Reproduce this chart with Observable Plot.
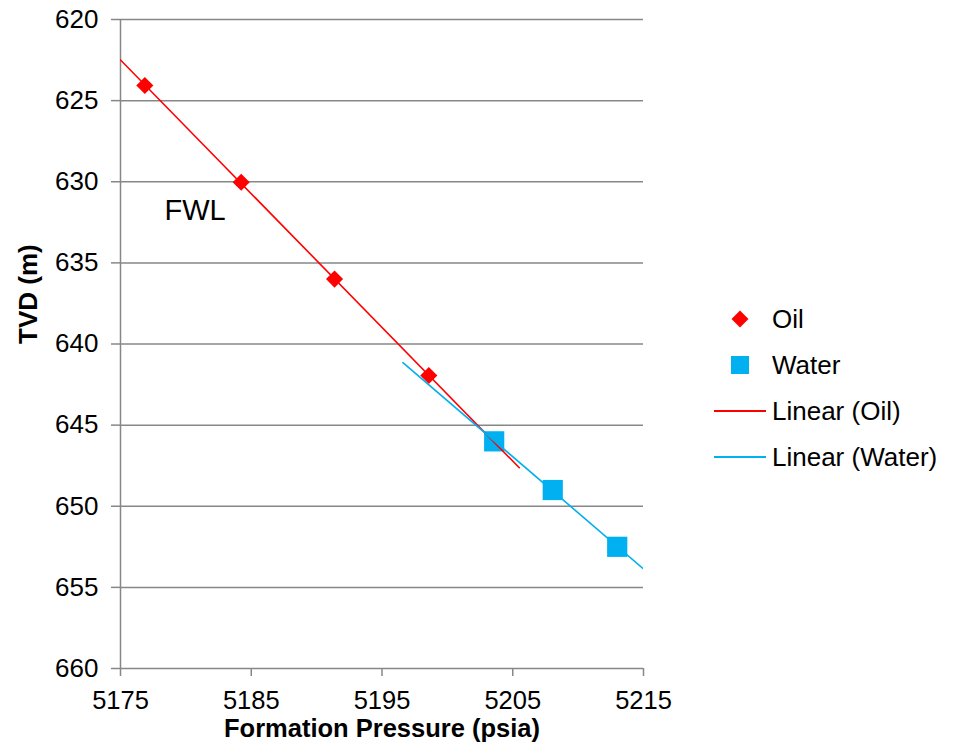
<!DOCTYPE html>
<html>
<head>
<meta charset="utf-8">
<script src="https://cdn.jsdelivr.net/npm/d3@7"></script>
<script src="https://cdn.jsdelivr.net/npm/@observablehq/plot@0.6"></script>
<style>
  body { margin: 0; background: #fff; font-family: "Liberation Sans", Arial, sans-serif; }
  #chart { position: relative; width: 956px; height: 754px; }
  #legend { position: absolute; left: 0; top: 0; }
</style>
</head>
<body>
<div id="chart"></div>
<script>
// Pressure survey: formation pressure (psia) against true vertical depth (m)
const oilPressure = [5176.86, 5184.23, 5191.37, 5198.58];
const oilDepth = [624.07, 630.03, 636.0, 641.94];
const waterPressure = [5203.58, 5208.06, 5212.99];
const waterDepth = [646.0, 649.0, 652.5];

// Pressure span over which each linear trend is drawn (forecast included)
const oilTrendPressure = [5175, 5205.5];
const waterTrendPressure = [5196.6, 5215];

const xTicks = [5175, 5185, 5195, 5205, 5215];
const yTicks = [620, 625, 630, 635, 640, 645, 650, 655, 660];

const annotationText = ["FWL"];
const annotationPressure = [5180.7];
const annotationDepth = [631.8];

const legendLabels = ["Oil", "Water", "Linear (Oil)", "Linear (Water)"];

const OIL = "#ff0000";
const WATER = "#00b0f0";
const GRID = "#878787";
const FONT = "Liberation Sans, Arial, sans-serif";

// Least-squares fit depth = a + b * pressure
function linearFit(xs, ys) {
  const mx = d3.mean(xs), my = d3.mean(ys);
  const b = d3.sum(xs, (x, i) => (x - mx) * (ys[i] - my)) / d3.sum(xs, x => (x - mx) ** 2);
  const a = my - b * mx;
  return x => a + b * x;
}

const oilPoints = oilPressure.map((p, i) => ({pressure: p, depth: oilDepth[i]}));
const waterPoints = waterPressure.map((p, i) => ({pressure: p, depth: waterDepth[i]}));
const oilFit = linearFit(oilPressure, oilDepth);
const waterFit = linearFit(waterPressure, waterDepth);
const oilTrend = oilTrendPressure.map(p => ({pressure: p, depth: oilFit(p)}));
const waterTrend = waterTrendPressure.map(p => ({pressure: p, depth: waterFit(p)}));
const annotations = annotationText.map((t, i) => ({text: t, pressure: annotationPressure[i], depth: annotationDepth[i]}));

const xMin = xTicks[0], xMax = xTicks[xTicks.length - 1];
const yMin = yTicks[0], yMax = yTicks[yTicks.length - 1];

const chart = Plot.plot({
  width: 956,
  height: 754,
  marginLeft: 120,
  marginRight: 313,
  marginTop: 19,
  marginBottom: 86,
  style: {fontFamily: FONT, fontSize: "26px", color: "black", background: "white", overflow: "visible"},
  x: {domain: [xMin, xMax]},
  y: {domain: [yMin, yMax], reverse: true},
  marks: [
    // horizontal gridlines and the vertical axis line
    Plot.ruleY(yTicks, {x1: xMin, x2: xMax, stroke: GRID, strokeWidth: 1.5}),
    Plot.ruleX([xMin], {y1: yMin, y2: yMax, stroke: GRID, strokeWidth: 1.5}),
    Plot.axisX({ticks: xTicks, tickSize: 8, tickPadding: 14, stroke: GRID, strokeWidth: 1.5, fill: "black", fontSize: 25.5, tickFormat: d => String(d), label: null}),
    Plot.axisY({ticks: yTicks, tickSize: 9, tickPadding: 13, stroke: GRID, strokeWidth: 1.5, fill: "black", fontSize: 26, tickFormat: d => String(d), label: null}),
    // axis titles
    Plot.text(["Formation Pressure (psia)"], {frameAnchor: "bottom", dy: 68, fontWeight: "bold", fontSize: 25.5, fill: "black"}),
    Plot.text(["TVD (m)"], {frameAnchor: "left", dx: -92, rotate: -90, fontWeight: "bold", fontSize: 26, fill: "black"}),
    // annotation
    Plot.text(annotations, {x: "pressure", y: "depth", text: "text", fontSize: 29, fill: "black"}),
    // measured points
    Plot.dot(oilPoints, {x: "pressure", y: "depth", symbol: "diamond2", r: 7.7, fill: OIL, stroke: "none"}),
    Plot.dot(waterPoints, {x: "pressure", y: "depth", symbol: "square", r: 11.4, fill: WATER, stroke: "none"}),
    // linear trends
    Plot.line(oilTrend, {x: "pressure", y: "depth", stroke: OIL, strokeWidth: 1.6, clip: true}),
    Plot.line(waterTrend, {x: "pressure", y: "depth", stroke: WATER, strokeWidth: 1.6, clip: true})
  ]
});

const container = document.getElementById("chart");
container.appendChild(chart);

// Legend on the right of the plot area
const legend = d3.select(container).append("svg")
  .attr("id", "legend")
  .attr("width", 956).attr("height", 754)
  .style("pointer-events", "none");

const rowY = [319, 365, 411, 457];
const symX = 740, textX = 772;
const rows = legend.selectAll("g").data(legendLabels).join("g")
  .attr("transform", (d, i) => `translate(0,${rowY[i]})`);

rows.filter((d, i) => i === 0).append("path")
  .attr("transform", `translate(${symX},0)`)
  .attr("d", d3.symbol(d3.symbolDiamond2, 184)())
  .attr("fill", OIL);
rows.filter((d, i) => i === 1).append("path")
  .attr("transform", `translate(${symX},0)`)
  .attr("d", d3.symbol(d3.symbolSquare, 324)())
  .attr("fill", WATER);
rows.filter((d, i) => i === 2).append("line")
  .attr("x1", 714).attr("x2", 766)
  .attr("stroke", OIL).attr("stroke-width", 2);
rows.filter((d, i) => i === 3).append("line")
  .attr("x1", 714).attr("x2", 766)
  .attr("stroke", WATER).attr("stroke-width", 2);

rows.append("text")
  .attr("x", textX)
  .attr("dy", "0.35em")
  .attr("font-family", FONT)
  .attr("font-size", 26)
  .attr("fill", "black")
  .text(d => d);
</script>
</body>
</html>
